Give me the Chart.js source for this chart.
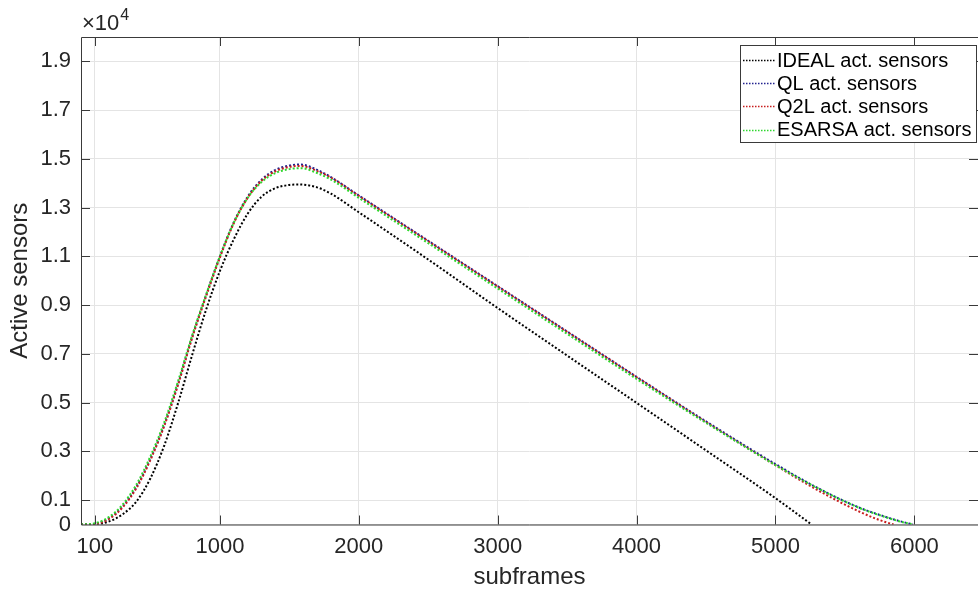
<!DOCTYPE html>
<html><head><meta charset="utf-8">
<script src="https://cdn.jsdelivr.net/npm/chart.js@4"></script>
<style>html,body{margin:0;padding:0;background:#fff;overflow:hidden}canvas{display:block}</style>
</head><body>
<canvas id="c" width="978" height="592"></canvas>
<script>
// ---- data ----
const xTickValues = [100, 1000, 2000, 3000, 4000, 5000, 6000];
const yTickValues = [0, 1000, 3000, 5000, 7000, 9000, 11000, 13000, 15000, 17000, 19000];
const yTickLabels = ['0', '0.1', '0.3', '0.5', '0.7', '0.9', '1.1', '1.3', '1.5', '1.7', '1.9'];
const seriesLabels = ['IDEAL act. sensors', 'QL act. sensors', 'Q2L act. sensors', 'ESARSA act. sensors'];
const xTitle = 'subframes';
const yTitle = 'Active sensors';
const exponentBase = '\u00D710';
const exponentPower = '4';

const idealX = [0,100,200,300,400,500,600,700,800,900,1000,1100,1200,1300,1400,1500,1570,1700,1800,2000,2500,3000,3500,4000,4500,5000,5260];
const idealY = [0,0,120,420,950,1900,3250,5000,6950,8800,10400,11700,12750,13450,13800,13930,13950,13830,13570,12810,10870,8880,6930,4990,3040,1080,0];

const qlX = [0,100,200,300,400,500,600,700,800,900,1000,1100,1200,1300,1400,1500,1580,1700,1800,2000,2500,3000,3500,4000,4500,5000,5300,5600,5800,5900,5990];
const qlY = [0,30,250,750,1550,2700,4100,5800,7700,9400,11000,12400,13450,14150,14550,14730,14770,14550,14250,13500,11640,9780,7920,6060,4230,2480,1510,700,300,130,0];

const q2lX = [0,100,200,300,400,500,600,700,800,900,1000,1100,1200,1300,1400,1500,1580,1700,1800,2000,2500,3000,3500,4000,4500,5000,5300,5600,5750,5850];
const q2lY = [0,20,220,700,1500,2650,4050,5750,7650,9350,10950,12360,13400,14100,14490,14670,14710,14500,14230,13480,11620,9760,7900,6040,4200,2430,1420,540,180,0];

const esarsaX = [0,100,200,300,400,500,600,700,800,900,1000,1100,1200,1300,1400,1500,1580,1700,1800,2000,2500,3000,3500,4000,4500,5000,5300,5600,5800,5900,5990];
const esarsaY = [0,50,300,820,1650,2800,4200,5900,7750,9420,11000,12380,13400,14050,14420,14580,14620,14420,14150,13400,11540,9680,7820,5970,4170,2440,1500,690,290,120,0];

const seriesColors = ['#000000', '#23238f', '#c81e1e', '#2ed82e'];

// ---- build ----
const FONT = '"Liberation Sans", Arial, Helvetica, sans-serif';
const pts = (xs, ys) => xs.map((x, i) => ({x: x, y: ys[i]}));
const seriesData = [pts(idealX, idealY), pts(qlX, qlY), pts(q2lX, q2lY), pts(esarsaX, esarsaY)];

const datasets = seriesData.map((d, i) => ({
  label: seriesLabels[i],
  data: d,
  borderColor: seriesColors[i],
  backgroundColor: seriesColors[i],
  borderWidth: 2,
  borderDash: [2, 2],
  pointRadius: 0,
  fill: false,
  cubicInterpolationMode: 'monotone',
  order: 3 - i
}));

const decor = {
  id: 'decor',
  afterDraw(chart) {
    const ctx = chart.ctx;
    const a = chart.chartArea;
    const xs = chart.scales.x, ys = chart.scales.y;
    ctx.save();
    ctx.strokeStyle = '#3a3a3a';
    ctx.lineWidth = 1;
    ctx.beginPath();
    ctx.moveTo(a.left + 0.5, a.bottom + 0.5);
    ctx.lineTo(a.left + 0.5, a.top + 0.5);
    ctx.lineTo(a.right, a.top + 0.5);
    ctx.moveTo(a.left + 0.5, a.bottom + 0.5);
    ctx.lineTo(a.right, a.bottom + 0.5);
    const tl = 9;
    xTickValues.forEach(v => {
      const px = Math.round(xs.getPixelForValue(v)) + 0.5;
      ctx.moveTo(px, a.bottom); ctx.lineTo(px, a.bottom - tl);
      ctx.moveTo(px, a.top); ctx.lineTo(px, a.top + tl);
    });
    yTickValues.forEach(v => {
      if (v === 0) return;
      const py = Math.round(ys.getPixelForValue(v)) + 0.5;
      ctx.moveTo(a.left, py); ctx.lineTo(a.left + tl, py);
      ctx.moveTo(a.right, py); ctx.lineTo(a.right - tl, py);
    });
    ctx.stroke();

    ctx.fillStyle = '#262626';
    ctx.textBaseline = 'alphabetic';
    ctx.textAlign = 'left';
    ctx.font = '22px ' + FONT;
    ctx.fillText(exponentBase, 82, 30);
    const w = ctx.measureText(exponentBase).width;
    ctx.font = '16px ' + FONT;
    ctx.fillText(exponentPower, 82 + w + 1, 20);

    ctx.font = '24px ' + FONT;
    ctx.textAlign = 'center';
    ctx.textBaseline = 'middle';
    ctx.fillText(xTitle, (a.left + a.right) / 2, 577);
    ctx.save();
    ctx.translate(20, (a.top + a.bottom) / 2);
    ctx.rotate(-Math.PI / 2);
    ctx.fillText(yTitle, 0, 0);
    ctx.restore();

    const lx = 740.5, ly = 45.5, lw = 236, lh = 97;
    ctx.fillStyle = '#ffffff';
    ctx.fillRect(lx, ly, lw, lh);
    ctx.strokeStyle = '#3a3a3a';
    ctx.lineWidth = 1;
    ctx.setLineDash([]);
    ctx.strokeRect(lx, ly, lw, lh);
    ctx.font = '20px ' + FONT;
    ctx.textAlign = 'left';
    ctx.textBaseline = 'middle';
    seriesLabels.forEach((lab, i) => {
      const yy = 60 + i * 23.2;
      ctx.strokeStyle = seriesColors[i];
      ctx.lineWidth = 1.5;
      ctx.setLineDash([1.5, 1.5]);
      ctx.beginPath();
      ctx.moveTo(743, Math.round(yy) + 0.5);
      ctx.lineTo(776, Math.round(yy) + 0.5);
      ctx.stroke();
      ctx.setLineDash([]);
      ctx.fillStyle = '#000000';
      ctx.fillText(lab, 777, yy + 1);
    });
    ctx.restore();
  }
};

new Chart(document.getElementById('c'), {
  type: 'line',
  data: { datasets: datasets },
  options: {
    responsive: false,
    devicePixelRatio: 1,
    animation: false,
    layout: { padding: { top: 37, left: 0, right: 0, bottom: 0 } },
    plugins: { legend: { display: false }, tooltip: { enabled: false } },
    scales: {
      x: {
        type: 'linear',
        min: 0,
        max: 6458,
        afterBuildTicks: s => { s.ticks = xTickValues.map(v => ({ value: v })); },
        afterFit: s => { s.height = 67.5; },
        ticks: {
          autoSkip: false, maxRotation: 0, minRotation: 0,
          padding: 9,
          color: '#262626',
          font: { family: FONT, size: 22 },
          callback: v => String(v)
        },
        grid: { color: '#e4e4e4', lineWidth: 1, drawTicks: false },
        border: { display: false }
      },
      y: {
        type: 'linear',
        min: 0,
        max: 20000,
        afterBuildTicks: s => { s.ticks = yTickValues.map(v => ({ value: v })); },
        afterFit: s => { s.width = 81; },
        ticks: {
          autoSkip: false,
          padding: 10,
          color: '#262626',
          font: { family: FONT, size: 22 },
          callback: v => yTickLabels[yTickValues.indexOf(v)]
        },
        grid: { color: '#e4e4e4', lineWidth: 1, drawTicks: false },
        border: { display: false }
      }
    }
  },
  plugins: [decor]
});
</script>
</body></html>
